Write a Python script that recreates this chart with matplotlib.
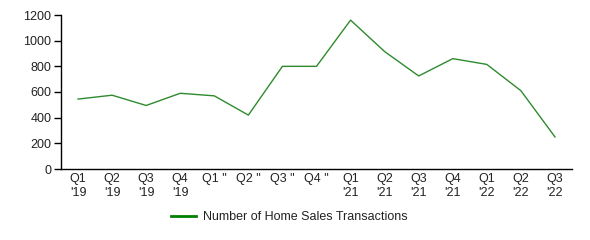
import matplotlib
matplotlib.use("Agg")
import matplotlib.pyplot as plt
import numpy as np

plt.rcParams['font.family'] = ['Liberation Sans', 'DejaVu Sans']

# quarterly labels as shown on the chart
quarters = ["Q1\n'19", "Q2\n'19", "Q3\n'19", "Q4\n'19",
            'Q1 "', 'Q2 "', 'Q3 "', 'Q4 "',
            "Q1\n'21", "Q2\n'21", "Q3\n'21", "Q4\n'21",
            "Q1\n'22", "Q2\n'22", "Q3\n'22"]
transactions = [545, 575, 495, 590, 570, 420, 800, 800,
                1160, 915, 725, 860, 815, 610, 250]
yticks = [0, 200, 400, 600, 800, 1000, 1200]

fig = plt.figure(figsize=(5.9, 2.4), dpi=100)
ax = fig.add_axes([61/590, 1-169/240, (572-61)/590, (169-15)/240])

x = np.arange(len(quarters))
ax.plot(x, transactions, color='#2e8b2e', lw=1.0, label='Number of Home Sales Transactions')

ax.set_xlim(-0.5, len(quarters) - 0.5)
ax.set_ylim(0, 1200)
ax.set_yticks(yticks)
ax.set_xticks(x)
ax.set_xticklabels(quarters, va='top', linespacing=1.15)
ax.tick_params(axis='x', length=0, pad=3, labelsize=9, colors='#222222')
ax.tick_params(axis='y', length=5, width=1, pad=2, labelsize=9, colors='#222222')
ax.tick_params(axis='both', color='black')

for s in ['top', 'right']:
    ax.spines[s].set_visible(False)
for s in ['left', 'bottom']:
    ax.spines[s].set_linewidth(1)
    ax.spines[s].set_color('black')

leg = fig.legend(loc='center', bbox_to_anchor=(0.49, 1-217/240), frameon=False,
                 fontsize=9, handlelength=2.0, handletextpad=0.6)
leg.get_lines()[0].set_color('green')
leg.get_lines()[0].set_linewidth(2)
for t in leg.get_texts():
    t.set_color('#222222')

fig.savefig('out.png', dpi=100)
